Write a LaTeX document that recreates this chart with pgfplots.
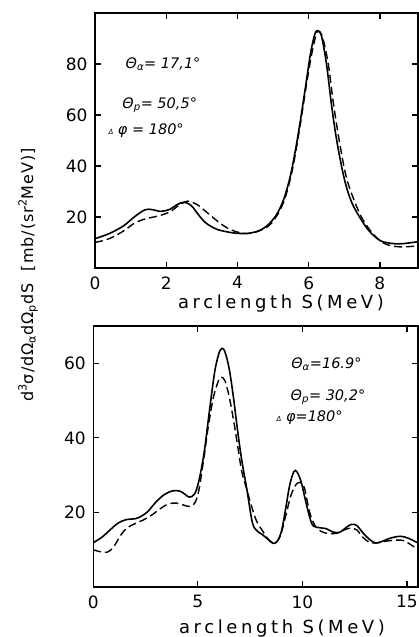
\documentclass[border=0pt]{standalone}
\usepackage{fontspec}
\setmainfont{DejaVu Sans}
\usepackage{pgfplots}
\pgfplotsset{compat=1.18}

\pgfplotsset{
  panel/.style={
    scale only axis, anchor=south west,
    axis line style={line width=1.2pt},
    tick style={line width=1.2pt, black},
    tick align=inside, major tick length=6pt,
    xtick pos=both, ytick pos=both,
    xticklabel pos=lower, yticklabel pos=left,
    /pgf/number format/assume math mode=true,
    tick label style={font=\fontsize{17}{17}\selectfont},
    xticklabel style={yshift=-5pt},
    yticklabel style={xshift=-4pt},
    clip=false,
  },
  solidcurve/.style={black, line width=1.6pt, smooth, tension=0.55},
  dashcurve/.style={black, line width=1.4pt, smooth, tension=0.55,
    dash pattern=on 8pt off 4pt},
}
\newcommand{\ann}{\fontsize{14.5}{14.5}\selectfont\itshape}
\newcommand{\lab}{\fontsize{18}{18}\selectfont\addfontfeatures{LetterSpace=20}}

\begin{document}
\begin{tikzpicture}
\useasboundingbox (0,0) rectangle (419pt,637pt);

% upper panel: theta_alpha = 17.1
\begin{axis}[panel, at={(95pt,369pt)}, width=323pt, height=255pt,
  xmin=0, xmax=9.07, ymin=0, ymax=100,
  xtick={0,2,4,6,8}, ytick={20,40,60,80}]
\addplot[solidcurve] coordinates {
(0,11.5) (0.4,13.5) (0.8,16.5) (1.1,20) (1.4,22.8) (1.6,22.9) (1.85,22.2)
(2.1,23) (2.3,24.8) (2.5,25.8) (2.7,24.5) (2.9,21) (3.1,17.8) (3.4,15.3)
(3.7,14.2) (4.0,13.6) (4.3,13.6) (4.6,14.6) (4.85,16.8) (5.1,21) (5.3,27)
(5.5,37) (5.7,52) (5.9,70) (6.05,84) (6.18,92) (6.27,93) (6.36,91)
(6.5,80) (6.65,63) (6.8,49) (7.0,35) (7.2,26) (7.45,19.5) (7.7,14.5)
(8.0,10.8) (8.3,9.7) (8.6,9.5) (9.07,10.3)
};
\addplot[dashcurve] coordinates {
(0,10) (0.4,11.5) (0.8,14.5) (1.1,17.5) (1.4,19.2) (1.8,20.5) (2.1,22)
(2.35,24.5) (2.6,26.2) (2.85,25) (3.1,22.3) (3.4,18.8) (3.7,15.8) (4.0,14.1)
(4.3,13.5) (4.6,14.5) (4.9,16.8) (5.15,21.5) (5.35,28) (5.55,39) (5.75,55)
(5.95,73) (6.1,85) (6.22,92) (6.3,92.5) (6.4,90) (6.55,80) (6.7,64)
(6.87,49) (7.05,36) (7.25,27.5) (7.5,19.5) (7.8,13.5) (8.1,9.8) (8.4,8.5)
(8.7,8.3) (9.07,8.7)
};
\node[anchor=west, font=\ann] at (axis cs:0.76,80) {Θ\textsubscript{α}= 17,1°};
\node[anchor=west, font=\ann] at (axis cs:0.67,64) {Θ\textsubscript{p}= 50,5°};
\node[anchor=west, font=\ann] at (axis cs:0.28,53.7) {{\scriptsize Δ} φ = 180°};
\end{axis}

% lower panel: theta_alpha = 16.9
\begin{axis}[panel, at={(93.3pt,50pt)}, width=324.7pt, height=261pt,
  xmin=0, xmax=15.53, ymin=0, ymax=70,
  xtick={0,5,10,15}, ytick={20,40,60}]
\addplot[solidcurve] coordinates {
(0,11.9) (0.4,13.3) (0.8,15.3) (1.2,17.2) (1.6,18.1) (2.0,18.3) (2.3,19)
(2.6,20.2) (3.0,22.8) (3.4,24.8) (3.8,25.8) (4.15,25.7) (4.4,24.8) (4.6,24.1)
(4.85,25) (5.05,28.5) (5.3,36) (5.55,47) (5.8,57.5) (6.0,62.5) (6.15,64)
(6.3,63) (6.5,58.5) (6.7,51) (6.9,42) (7.1,34) (7.35,26) (7.6,17.5)
(7.8,15.2) (8.1,14) (8.35,12.8) (8.6,11.7) (8.8,12.3) (9.0,15) (9.2,21)
(9.4,27.5) (9.6,31) (9.75,30.8) (9.95,28) (10.2,22) (10.45,17) (10.7,16)
(11.1,15.7) (11.5,14.7) (11.8,14.7) (12.1,16) (12.35,16.8) (12.6,16.5)
(12.9,14.5) (13.2,12.8) (13.5,11.8) (13.8,12.2) (14.2,13.1) (14.7,13.6)
(15.1,13) (15.53,11.8)
};
\addplot[dashcurve] coordinates {
(0,10) (0.3,9.5) (0.7,9.4) (1.0,11) (1.3,13.8) (1.6,15.8) (2.0,17) (2.4,18)
(2.8,19.3) (3.2,21) (3.6,22.3) (4.0,22.5) (4.3,22) (4.6,21.6) (4.85,22.5)
(5.05,26) (5.3,35) (5.5,43) (5.75,51) (6.0,55.5) (6.12,56.3) (6.3,55.3)
(6.5,51) (6.7,45) (6.9,38) (7.1,31) (7.35,26) (7.55,22) (7.8,17.8) (8.1,15)
(8.4,12.6) (8.7,11.8) (8.95,13.8) (9.2,19) (9.45,24.5) (9.7,27.5) (9.9,28)
(10.1,26.5) (10.35,20) (10.6,16.5) (10.9,14.9) (11.3,14.3) (11.7,14.5)
(12.0,15.3) (12.3,15.8) (12.6,15.3) (12.9,13.3) (13.2,12) (13.5,11.8)
(13.9,12.2) (14.3,12.5) (14.8,12.5) (15.2,11.3) (15.53,10)
};
\node[anchor=west, font=\ann] at (axis cs:9.3,59.7) {Θ\textsubscript{α}=16.9°};
\node[anchor=west, font=\ann] at (axis cs:9.27,50.8) {Θ\textsubscript{p}= 30,2°};
\node[anchor=west, font=\ann] at (axis cs:8.6,45.5) {{\scriptsize Δ} φ=180°};
\end{axis}

% axis titles
\node[font=\lab, anchor=base] at (281pt,328pt) {arclength S(MeV)};
\node[font=\lab, anchor=base] at (282pt,4pt) {arclength S(MeV)};
\node[rotate=90, anchor=base, font=\fontsize{16}{16}\selectfont\addfontfeatures{LetterSpace=6}] at (33pt,362pt)
  {d\textsuperscript{3}σ/dΩ\textsubscript{α}dΩ\textsubscript{p}dS\ \ [mb/(sr\textsuperscript{2}MeV)]};
\end{tikzpicture}
\end{document}
